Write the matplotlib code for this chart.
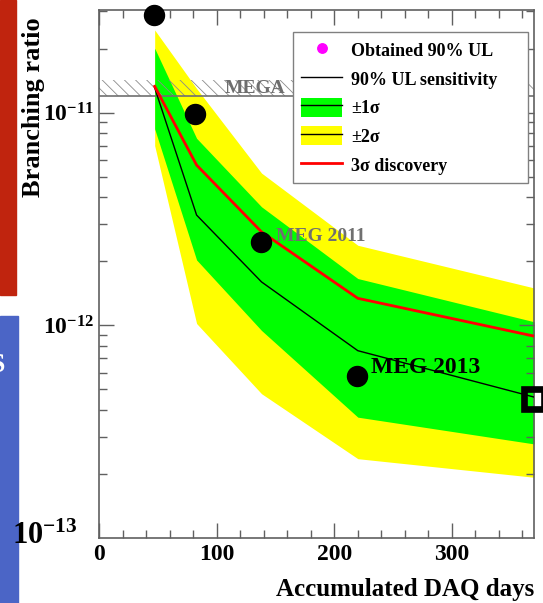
import matplotlib
matplotlib.use("Agg")
import matplotlib.pyplot as plt
from matplotlib.lines import Line2D
from matplotlib.patches import Patch, Rectangle
from matplotlib.ticker import FixedLocator, MultipleLocator, NullFormatter, LogLocator

plt.rcParams['font.family'] = ['Liberation Serif', 'DejaVu Serif']
plt.rcParams['font.weight'] = 'bold'
plt.rcParams['axes.labelweight'] = 'bold'
plt.rcParams['mathtext.fontset'] = 'custom'
plt.rcParams['mathtext.rm'] = 'Liberation Serif:bold'
plt.rcParams['mathtext.bf'] = 'Liberation Serif:bold'
plt.rcParams['hatch.linewidth'] = 0.6
plt.rcParams['hatch.color'] = '#8a8a8a'

# sensitivity projection vs accumulated DAQ days
days = [47, 82.7, 138, 220, 370]
sens = [1.31e-11, 3.30e-12, 1.60e-12, 7.6e-13, 4.6e-13]
disc3 = [1.33e-11, 5.67e-12, 2.75e-12, 1.34e-12, 8.9e-13]
sig1_hi = [2.01e-11, 7.58e-12, 3.61e-12, 1.66e-12, 1.04e-12]
sig1_lo = [8.4e-12, 2.03e-12, 9.46e-13, 3.7e-13, 2.77e-13]
sig2_hi = [2.45e-11, 1.3e-11, 5.2e-12, 2.38e-12, 1.5e-12]
sig2_lo = [7.0e-12, 1.02e-12, 4.77e-13, 2.36e-13, 1.93e-13]

# obtained upper limits
ul_days = [46.4, 81.3, 137.2, 218.9]
ul_vals = [2.88e-11, 9.86e-12, 2.47e-12, 5.8e-13]
final_day = [370]
final_val = [4.5e-13]

mega_lo, mega_hi = 1.2e-11, 1.43e-11

fig = plt.figure(figsize=(5.43, 6.03), dpi=100)
ax = fig.add_axes([0.1832, 0.1078, 0.8002, 0.8756])

# side bars from the slide
fig.patches.append(Rectangle((0, 1 - 295 / 603), 16 / 543, 295 / 603,
                             transform=fig.transFigure, color='#c0240e', zorder=0))
fig.patches.append(Rectangle((0, 0), 18 / 543, 1 - 316 / 603,
                             transform=fig.transFigure, color='#4b65c6', zorder=0))
fig.text(-3 / 543, 1 - 366 / 603, 'S', color='white', fontsize=20,
         ha='center', va='center')

ax.fill_between(days, sig2_lo, sig2_hi, color='#ffff00', lw=0, zorder=1)
ax.fill_between(days, sig1_lo, sig1_hi, color='#00ff00', lw=0, zorder=1.5)

ax.fill_between([0, 370], mega_lo, mega_hi, facecolor='none', edgecolor='#8a8a8a',
                hatch='\\\\\\', lw=0, zorder=2)
ax.axhline(mega_lo, color='#707070', lw=1.2, zorder=2)
ax.text(106.8, 1.238e-11, 'MEGA', color='#6e6e6e', fontsize=14, va='baseline', zorder=2)

ax.plot(days, sens, color='black', lw=1.0, zorder=3)
ax.plot(days, disc3, color='#ff0000', lw=2.0, zorder=3)

ax.plot(ul_days, ul_vals, 'o', color='black', ms=14.4, zorder=4, clip_on=False)
ax.plot(final_day, final_val, 's', mfc='none', mec='black', mew=4.8, ms=14.4,
        zorder=4, clip_on=False)

ax.annotate('MEG 2011', xy=(ul_days[2], ul_vals[2]), xytext=(15, 5),
            textcoords='offset pixels', color='#707070', fontsize=14,
            ha='left', va='center')
ax.annotate('MEG 2013', xy=(ul_days[3], ul_vals[3]), xytext=(14, 8),
            textcoords='offset pixels', color='black', fontsize=17,
            ha='left', va='center')

ax.set_yscale('log')
ax.set_xlim(0, 370)
ax.set_ylim(1e-13, 3.04e-11)

ax.yaxis.set_major_locator(FixedLocator([1e-12, 1e-11]))
ax.set_yticklabels([r'$\mathbf{10^{-12}}$', r'$\mathbf{10^{-11}}$'])
ax.yaxis.set_minor_locator(LogLocator(subs=range(2, 10)))
ax.yaxis.set_minor_formatter(NullFormatter())
ax.xaxis.set_major_locator(MultipleLocator(100))
ax.xaxis.set_minor_locator(MultipleLocator(20))

for s in ax.spines.values():
    s.set_color('#606060')
    s.set_linewidth(1.2)
ax.tick_params(which='both', direction='in', top=True, right=True, color='#606060')
ax.tick_params(which='major', length=11, width=1.0, labelsize=17, pad=4)
ax.tick_params(which='minor', length=6, width=1.0)

fig.text(78 / 543, 1 - 544 / 603, r'$\mathbf{10^{-13}}$', fontsize=22,
         ha='right', va='baseline')

ax.set_ylabel('Branching ratio', fontsize=19, fontweight='bold')
ax.yaxis.set_label_coords(-0.125, 0.816)
ax.set_xlabel('Accumulated DAQ days', fontsize=18, fontweight='bold', ha='right')
ax.xaxis.set_label_coords(1.0, -0.0758)

handles = [
    Line2D([], [], marker='o', color='#ff00ff', ls='none', ms=6.8),
    Line2D([], [], color='black', lw=1.0),
    (Patch(facecolor='#00ff00', edgecolor='none'), Line2D([], [], color='black', lw=1.0)),
    (Patch(facecolor='#ffff00', edgecolor='none'), Line2D([], [], color='black', lw=1.0)),
    Line2D([], [], color='#ff0000', lw=2.0),
]
labels = ['Obtained 90% UL', '90% UL sensitivity', '±1σ', '±2σ', '3σ discovery']
leg = ax.legend(handles, labels, loc='upper left', bbox_to_anchor=(0.4453, 0.6, 0.541, 0.358),
                mode='expand', fontsize=13, handlelength=2.27, handleheight=1.25,
                labelspacing=0.5, borderpad=0.45, handletextpad=0.5,
                fancybox=False, framealpha=1, edgecolor='#808080', borderaxespad=0)
leg.get_frame().set_linewidth(1.0)
leg.set_zorder(6)

fig.savefig('out.png', dpi=100)
